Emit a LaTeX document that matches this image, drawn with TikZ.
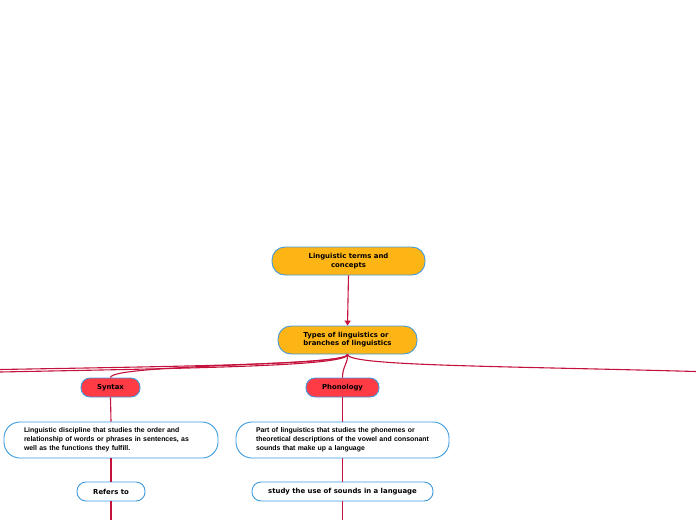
\documentclass[tikz,border=0pt]{standalone}
\usepackage{fontspec}
\setmainfont{DejaVu Sans}
\newfontfamily\descfont{Liberation Sans}
\usetikzlibrary{arrows.meta}
\definecolor{orng}{HTML}{FDB515}
\definecolor{redbox}{HTML}{FF3B45}
\definecolor{bord}{HTML}{3D9BE0}
\definecolor{conn}{HTML}{C4123C}
\tikzset{
  boxbase/.style={draw=bord, line width=0.9pt, inner sep=0pt, align=center, font=\bfseries\fontsize{6.9}{8.2}\selectfont},
  mainbox/.style={boxbase, fill=orng, rounded corners=13pt},
  catbox/.style={boxbase, fill=redbox, rounded corners=9pt},
  descbox/.style={boxbase, fill=white, rounded corners=16pt, align=left, font=\descfont\bfseries\fontsize{6.9}{9}\selectfont},
  smallbox/.style={boxbase, fill=white, rounded corners=9pt},
  conline/.style={draw=conn, line width=1.1pt},
}
\begin{document}
\begin{tikzpicture}[x=1pt,y=-1pt]
\useasboundingbox (0,0) rectangle (696,520);
\node[mainbox, minimum width=153pt, minimum height=28pt] (top) at (348.5,261) {Linguistic terms and\\concepts};
\node[mainbox, minimum width=139pt, minimum height=28pt, align=left] (types) at (347.5,340) {Types of linguistics or\\branches of linguistics};
\node[catbox, minimum width=59pt, minimum height=19pt] (syn) at (110.5,387.5) {Syntax};
\node[catbox, minimum width=73pt, minimum height=19pt] (pho) at (342.5,387.5) {Phonology};
\node[descbox, minimum width=214pt, minimum height=36pt, text width=174pt] (syndesc) at (111,440) {Linguistic discipline that studies the order and\\relationship of words or phrases in sentences, as\\well as the functions they fulfill.};
\node[descbox, minimum width=213pt, minimum height=36pt, text width=173pt] (phodesc) at (342.5,440) {Part of linguistics that studies the phonemes or\\theoretical descriptions of the vowel and consonant\\sounds that make up a language};
\node[smallbox, minimum width=68pt, minimum height=19pt] (ref) at (111,491.5) {Refers to};
\node[smallbox, minimum width=181pt, minimum height=19pt] (study) at (342.5,491.5) {study the use of sounds in a language};
\coordinate (l1) at (0,369.5);
\coordinate (l2) at (0,372);
\coordinate (r1) at (696,371.5);
\coordinate (b1) at (111,520);
\coordinate (b2) at (342.5,520);
\draw[conline, -{Triangle[length=5pt,width=6pt]}] (top.south) -- (types.north);
\draw[conline] (types.south) .. controls (348,364) and (200,366) .. (l1);
\draw[conline] (types.south) .. controls (348,366) and (200,368) .. (l2);
\draw[conline] (types.south) .. controls (348,366) and (111,364) .. (syn.north);
\draw[conline] (types.south) .. controls (348,364) and (342.5,366) .. (pho.north);
\draw[conline] (types.south) .. controls (348,366) and (500,366) .. (r1);
\draw[conline] (syn.south) -- (syndesc.north);
\draw[conline] (syndesc.south) -- (ref.north);
\draw[conline] (ref.south) -- (b1);
\draw[conline] (pho.south) -- (phodesc.north);
\draw[conline] (phodesc.south) -- (study.north);
\draw[conline] (study.south) -- (b2);
\end{tikzpicture}
\end{document}
